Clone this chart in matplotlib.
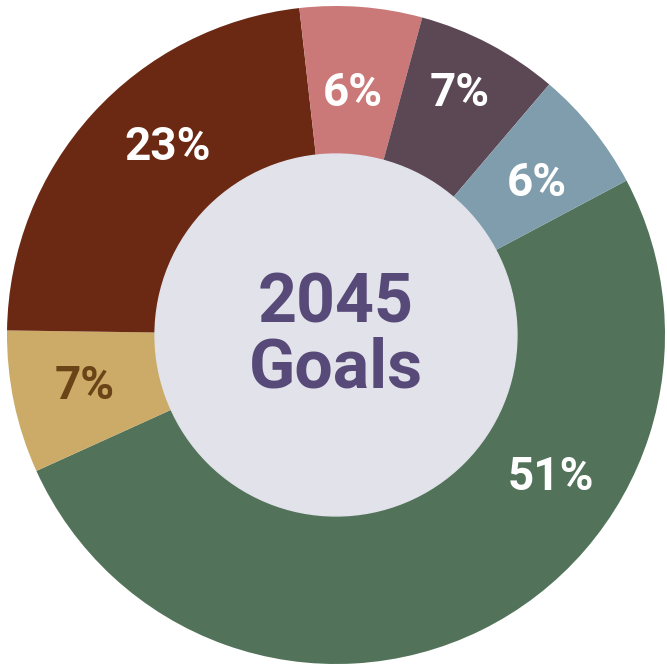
import matplotlib.pyplot as plt

# share of 2045 goals, clockwise from the right side
labels = ["51%", "7%", "23%", "6%", "7%", "6%"]
shares = [51, 7, 23, 6, 7, 6]
colors = ["#52735a", "#cbab67", "#6b2914", "#cb7878", "#5c4855", "#7f9dac"]
label_colors = ["white", "#6a4417", "white", "white", "white", "white"]
# where each percentage sits (data units, ring radius = 1)
label_xy = [(0.652, -0.432), (-0.763, -0.155), (-0.511, 0.571),
            (0.052, 0.736), (0.377, 0.736), (0.611, 0.462)]
center_title = "2045\nGoals"

plt.rcParams['font.family'] = ['Roboto', 'DejaVu Sans']

fig = plt.figure(figsize=(6.67, 6.70), dpi=100)
ax = fig.add_axes([0, 0, 1, 1])

ax.pie(shares, colors=colors, startangle=28, counterclock=False,
       radius=1.0, wedgeprops=dict(width=1.0, linewidth=0))
inner = plt.Circle((0, 0), 0.55, color="#e2e2ea", zorder=3)
ax.add_patch(inner)

for txt, (x, y), c in zip(labels, label_xy, label_colors):
    ax.text(x, y, txt, ha="center", va="center", fontsize=33,
            fontweight="bold", color=c, zorder=4)

ax.text(0.0, -0.005, center_title, ha="center", va="center", fontsize=49,
        fontweight="bold", color="#574a78", linespacing=1.0, zorder=4)

ax.set_xlim(-336 / 329, 331 / 329)
ax.set_ylim(-335 / 329, 335 / 329)
ax.set_aspect("auto")
ax.axis("off")

fig.savefig("out.png", dpi=100, facecolor="white")
